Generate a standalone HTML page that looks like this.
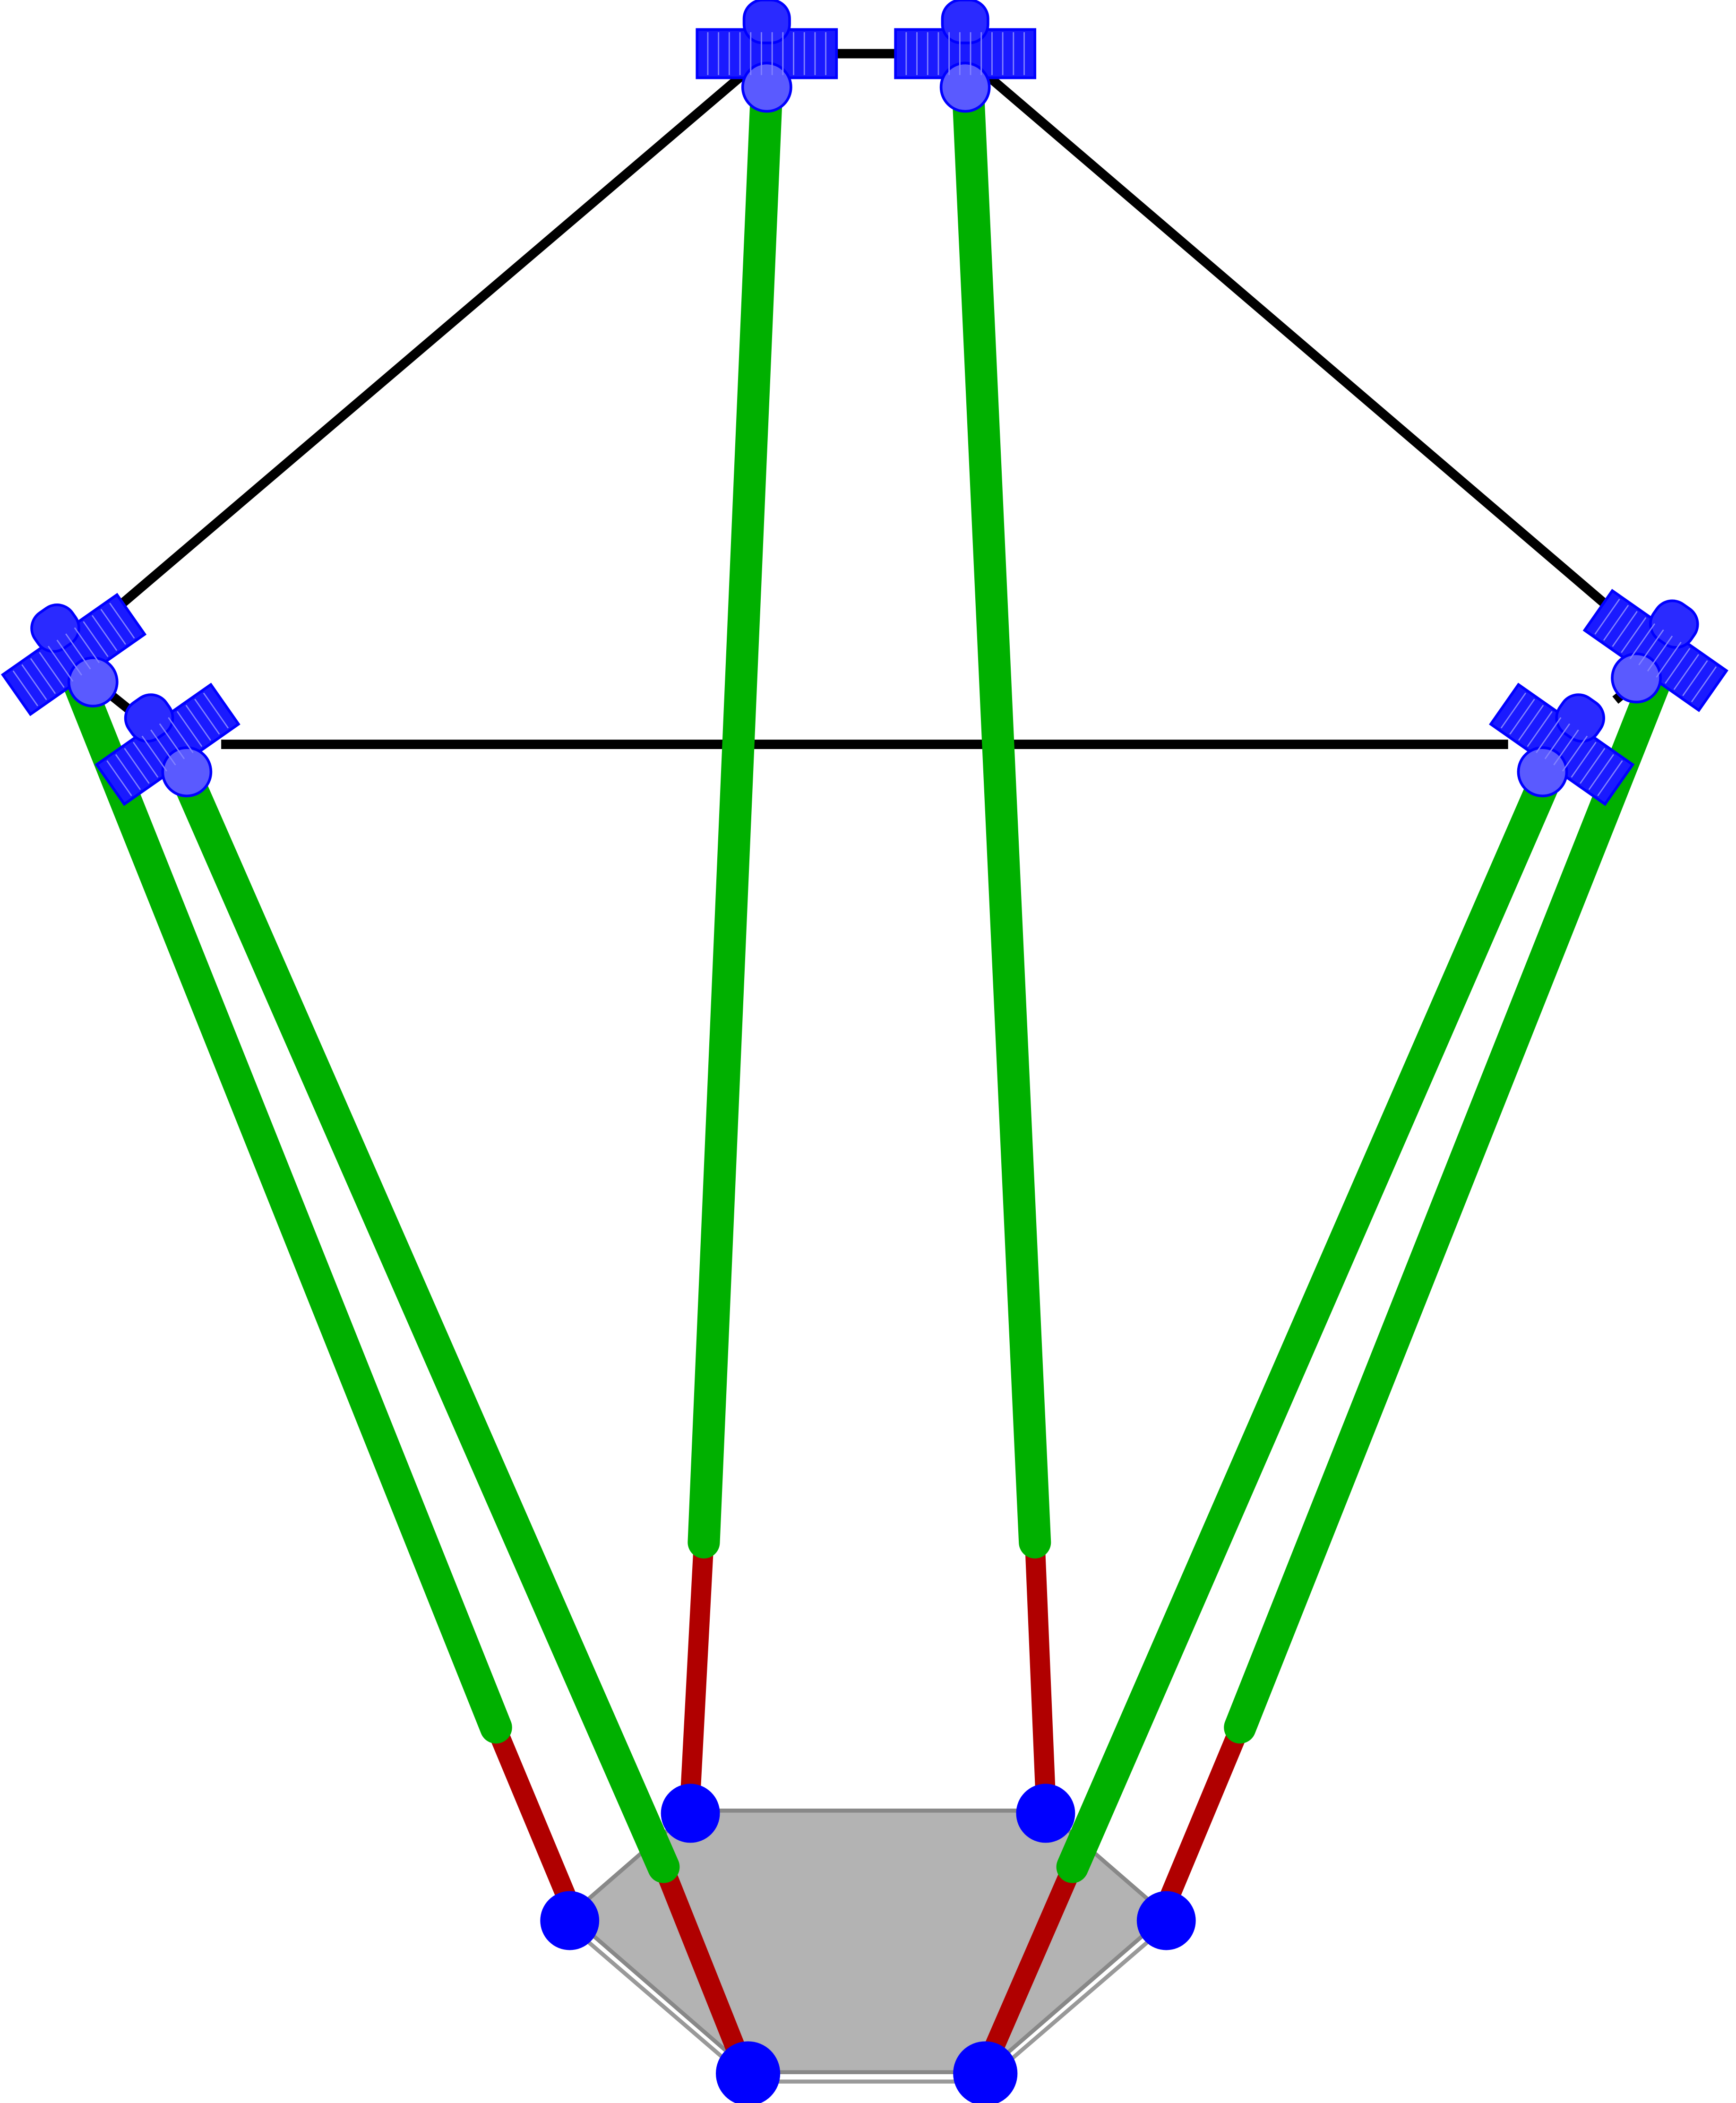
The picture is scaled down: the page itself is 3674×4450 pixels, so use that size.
<!DOCTYPE html>
<html><head><meta charset="utf-8"><style>html,body{margin:0;padding:0;background:#fff}svg{display:block}</style></head>
<body>
<svg id="scene" width="3674" height="4450" viewBox="0 0 1295 1568" preserveAspectRatio="none" xmlns="http://www.w3.org/2000/svg">
<polygon points="515,1350 780,1350 870,1428 735,1545 560,1545 425,1428" fill="#b3b3b3" stroke="#888" stroke-width="3"/>
<polyline points="425,1436 560,1552 735,1552 870,1436" fill="none" stroke="#999" stroke-width="3"/>
<g id="frame"></g>
<g id="rods"></g>
<g id="balls"></g>
<g id="joints"></g>
</svg>
<script>
const frameLines=[[620,40,670,40],[555,55,70,468],[735,55,1218,468],[165,555,1125,555],[70,508,100,532],[1205,522,1228,503]];
const rodTop=[[572,65],[722,65],[55,500],[135,570],[1240,495],[1160,565]];
const rodMid=[[525,1150],[772,1150],[370,1288],[495,1392],[925,1288],[800,1392]];
const rodEnd=[[515,1338],[780,1340],[425,1420],[550,1530],[870,1420],[740,1530]];
const ballPos=[[515,1352,22],[780,1352,22],[425,1432,22],[870,1432,22],[558,1546,24],[735,1546,24]];
const jointPos=[[572,40,0],[720,40,0],[55,488,-35],[125,555,-35],[1235,485,35],[1165,555,35]];
const NS="http://www.w3.org/2000/svg";
function mk(t,a,p){const e=document.createElementNS(NS,t);for(const k in a)e.setAttribute(k,a[k]);p.appendChild(e);return e;}
const F=document.getElementById('frame');
frameLines.forEach(l=>{const e=mk('line',{x1:l[0],y1:l[1],x2:l[2],y2:l[3],stroke:'#000','stroke-width':7},F);

});
const R=document.getElementById('rods');
rodTop.forEach((t,i)=>{const m=rodMid[i],b=rodEnd[i];
const r=mk('line',{x1:m[0],y1:m[1],x2:b[0],y2:b[1],stroke:'#b00000','stroke-width':15,'stroke-linecap':'round'},R);


const g=mk('line',{x1:t[0],y1:t[1],x2:m[0],y2:m[1],stroke:'#00b000','stroke-width':24,'stroke-linecap':'round'},R);

});
const B=document.getElementById('balls');
ballPos.forEach(p=>{const c=mk('circle',{cx:p[0],cy:p[1],r:p[2],fill:'#0000ff'},B);

});
const J=document.getElementById('joints');
jointPos.forEach(p=>{const g=mk('g',{transform:`translate(${p[0]},${p[1]}) rotate(${p[2]})`},J);


mk('rect',{x:-52,y:-18,width:104,height:36,fill:'#1a1aff',stroke:'#0000ff','stroke-width':2},g);
mk('rect',{x:-17,y:-40,width:34,height:32,rx:14,fill:'#2a2aff',stroke:'#0000ff','stroke-width':2},g);
mk('ellipse',{cx:0,cy:25,rx:18,ry:18,fill:'#5a5aff',stroke:'#0000ff','stroke-width':2},g);
for(let k=-44;k<=44;k+=8)mk('line',{x1:k,y1:-16,x2:k,y2:16,stroke:'#8080ff','stroke-width':1},g);});
</script>
</body></html>
